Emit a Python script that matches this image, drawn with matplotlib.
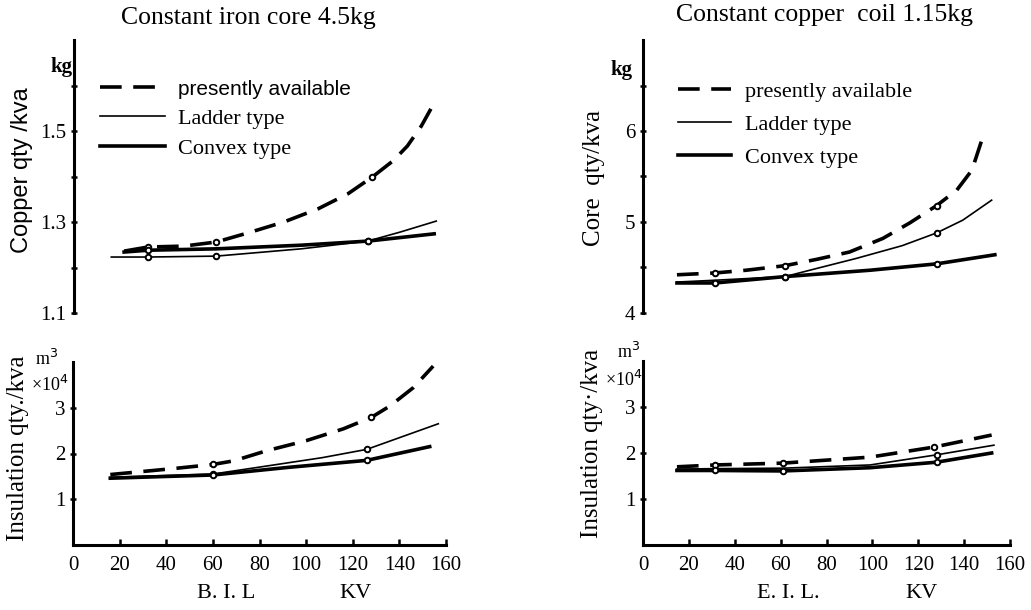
import matplotlib
matplotlib.use('Agg')
import matplotlib.pyplot as plt

# B.I.L. (KV) positions and readings, one set per panel
# left top: copper qty/kva (kg), constant iron core
cu_x_pa = [21.5, 31.7, 47, 61, 74.6, 90, 104.7, 117.5, 128, 137, 143, 149, 155.4]
cu_y_pa = [1.236, 1.245, 1.247, 1.256, 1.276, 1.300, 1.329, 1.362, 1.399, 1.435, 1.467, 1.511, 1.570]
cu_x_lad = [16, 31.7, 61, 97.4, 126, 140, 155.4]
cu_y_lad = [1.223, 1.223, 1.225, 1.241, 1.258, 1.278, 1.302]
cu_x_cvx = [21.5, 31.7, 61, 97.4, 126, 154.5]
cu_y_cvx = [1.234, 1.238, 1.241, 1.249, 1.258, 1.274]

# left bottom: insulation qty/kva (m3 x10^-4)
in_x_pa = [16, 43, 60, 69, 83, 100, 116, 128, 136, 146, 154.5]
in_y_pa = [1.54, 1.67, 1.76, 1.84, 2.06, 2.28, 2.54, 2.79, 3.04, 3.44, 3.91]
in_x_lad = [16, 60, 87.5, 107, 126, 156.7]
in_y_lad = [1.48, 1.55, 1.76, 1.91, 2.09, 2.65]
in_x_cvx = [16, 60, 93, 126, 153]
in_y_cvx = [1.46, 1.53, 1.70, 1.85, 2.15]

# right top: core qty/kva (kg), constant copper coil
co_x_pa = [14.8, 31.4, 45, 61.9, 75.8, 90, 104.6, 116.3, 128, 136.8, 143.4, 147.7]
co_y_pa = [4.42, 4.44, 4.47, 4.52, 4.59, 4.67, 4.82, 4.99, 5.18, 5.35, 5.57, 5.90]
co_x_lad = [14.8, 31.4, 61.9, 75.8, 93, 113, 128, 139.4, 152]
co_y_lad = [4.34, 4.36, 4.40, 4.49, 4.60, 4.74, 4.88, 5.02, 5.24]
co_x_cvx = [14.8, 31.4, 61.9, 99, 128, 153.4]
co_y_cvx = [4.33, 4.33, 4.40, 4.47, 4.54, 4.64]

# right bottom: insulation qty/kva
ri_x_pa = [14.8, 31.4, 61, 99, 127, 152]
ri_y_pa = [1.70, 1.74, 1.78, 1.91, 2.13, 2.39]
ri_x_lad = [14.8, 31.4, 61, 99, 128, 153]
ri_y_lad = [1.65, 1.66, 1.67, 1.74, 1.96, 2.17]
ri_x_cvx = [14.8, 31.4, 61, 99, 128, 152]
ri_y_cvx = [1.62, 1.62, 1.61, 1.68, 1.80, 2.00]

labels = ['presently available', 'Ladder type', 'Convex type']
x_ticks = [0, 20, 40, 60, 80, 100, 120, 140, 160]

SERIF = 'Liberation Serif'
SANS = 'Liberation Sans'
W, H = 1031, 610


def px(x, y):
    return x / W, 1 - y / H


fig = plt.figure(figsize=(10.31, 6.10), dpi=100)
fig.patch.set_facecolor('white')

ax1 = fig.add_axes([74 / W, 1 - 313 / H, 373 / W, 273 / H])
ax2 = fig.add_axes([73 / W, 1 - 545 / H, 373 / W, 183 / H])
ax3 = fig.add_axes([643 / W, 1 - 313 / H, 367 / W, 273 / H])
ax4 = fig.add_axes([643 / W, 1 - 545 / H, 367 / W, 184 / H])

pa_style = dict(color='black', lw=2.6, ls=(0, (6, 3.2)), marker='o', ms=4,
                mfc='white', mec='black', mew=1.4)
lad_style = dict(color='black', lw=1.2, marker='o', ms=4, mfc='white',
                 mec='black', mew=1.4)
cvx_style = dict(color='black', lw=2.6, marker='o', ms=4, mfc='white',
                 mec='black', mew=1.4)

panels = [
    (ax1, cu_x_pa, cu_y_pa, [1, 3, 8], cu_x_lad, cu_y_lad, [1, 2, 4], cu_x_cvx, cu_y_cvx, [1, 4]),
    (ax2, in_x_pa, in_y_pa, [2, 7], in_x_lad, in_y_lad, [1, 4], in_x_cvx, in_y_cvx, [1, 3]),
    (ax3, co_x_pa, co_y_pa, [1, 3, 8], co_x_lad, co_y_lad, [2, 6], co_x_cvx, co_y_cvx, [1, 2, 4]),
    (ax4, ri_x_pa, ri_y_pa, [1, 2, 4], ri_x_lad, ri_y_lad, [4], ri_x_cvx, ri_y_cvx, [1, 2, 4]),
]

handles = {}
for ax, xp, yp, mp, xl, yl, ml, xc, yc, mc in panels:
    h1, = ax.plot(xp, yp, markevery=mp, **pa_style)
    h2, = ax.plot(xl, yl, markevery=ml, **lad_style)
    h3, = ax.plot(xc, yc, markevery=mc, **cvx_style)
    handles[ax] = [h1, h2, h3]
    ax.set_xlim(0, 160)
    for s in ['top', 'right']:
        ax.spines[s].set_visible(False)
    ax.spines['left'].set_linewidth(2.2)
    ax.spines['bottom'].set_linewidth(2.2)
    ax.tick_params(axis='y', direction='inout', length=5, width=1.8, labelsize=15, pad=3)
    ax.tick_params(axis='x', direction='in', length=4, width=1.8, labelsize=15, pad=8)

# top panels: no x axis
for ax in [ax1, ax3]:
    ax.spines['bottom'].set_visible(False)
    ax.set_xticks([])

ax1.set_ylim(1.1, 1.7)
ax1.set_yticks([1.1, 1.2, 1.3, 1.4, 1.5, 1.6])
ax1.set_yticklabels(['1.1', '', '1.3', '', '1.5', ''], family=SERIF)

ax3.set_ylim(4, 7)
ax3.set_yticks([4, 4.5, 5, 5.5, 6, 6.5])
ax3.set_yticklabels(['4', '', '5', '', '6', ''], family=SERIF)

for ax in [ax2, ax4]:
    ax.set_ylim(0, 4)
    ax.set_yticks([1, 2, 3])
    ax.set_yticklabels(['1', '2', '3'], family=SERIF)
    ax.set_xticks(x_ticks)
    ax.set_xticklabels([str(v) for v in x_ticks], family=SERIF)

# legends
leg1 = ax1.legend(handles[ax1], labels, loc='upper left', bbox_to_anchor=(0.07, 0.855),
                  frameon=False, handlelength=2.9, handletextpad=0.6, borderaxespad=0,
                  labelspacing=0.42, borderpad=0, prop={'family': SERIF, 'size': 16})
leg1.get_texts()[0].set_family(SANS)
leg1.get_texts()[0].set_size(15)
for lh in leg1.get_lines():
    lh.set_marker('')

leg3 = ax3.legend(handles[ax3], labels, loc='upper left', bbox_to_anchor=(0.095, 0.848),
                  frameon=False, handlelength=2.4, handletextpad=0.6, borderaxespad=0,
                  labelspacing=0.55, borderpad=0, prop={'family': SERIF, 'size': 16})
for lh in leg3.get_lines():
    lh.set_marker('')

# titles
fig.text(*px(248, 18), 'Constant iron core 4.5kg', ha='center', va='center',
         family=SERIF, size=18.5)
fig.text(*px(825, 15), 'Constant copper  coil 1.15kg', ha='center', va='center',
         family=SERIF, size=18.5)

# y labels and units
fig.text(*px(22, 170), 'Copper qty /kva', rotation=90, ha='center', va='center',
         family=SANS, size=17)
fig.text(*px(62, 67), 'kg', ha='center', va='center', family=SERIF, size=15,
         weight='bold')
fig.text(*px(18, 448), 'Insulation qty./kva', rotation=90, ha='center', va='center',
         family=SERIF, size=18)
fig.text(*px(47, 359), 'm$^3$', ha='center', va='center', family=SERIF, size=13)
fig.text(*px(50, 385), '×10$^4$', ha='center', va='center', family=SERIF, size=13)

fig.text(*px(594, 178), 'Core  qty/kva', rotation=90, ha='center', va='center',
         family=SERIF, size=18)
fig.text(*px(622, 70), 'kg', ha='center', va='center', family=SERIF, size=15,
         weight='bold')
fig.text(*px(592, 443), 'Insulation qty·/kva', rotation=90, ha='center', va='center',
         family=SERIF, size=18)
fig.text(*px(629, 352), 'm$^3$', ha='center', va='center', family=SERIF, size=13)
fig.text(*px(624, 380), '×10$^4$', ha='center', va='center', family=SERIF, size=13)

# x labels
fig.text(*px(226, 594), 'B. I. L', ha='center', va='center', family=SERIF, size=16)
fig.text(*px(355, 594), 'KV', ha='center', va='center', family=SERIF, size=16)
fig.text(*px(788, 594), 'E. I. L.', ha='center', va='center', family=SERIF, size=16)
fig.text(*px(922, 594), 'KV', ha='center', va='center', family=SERIF, size=16)

fig.savefig('out.png', dpi=100)
